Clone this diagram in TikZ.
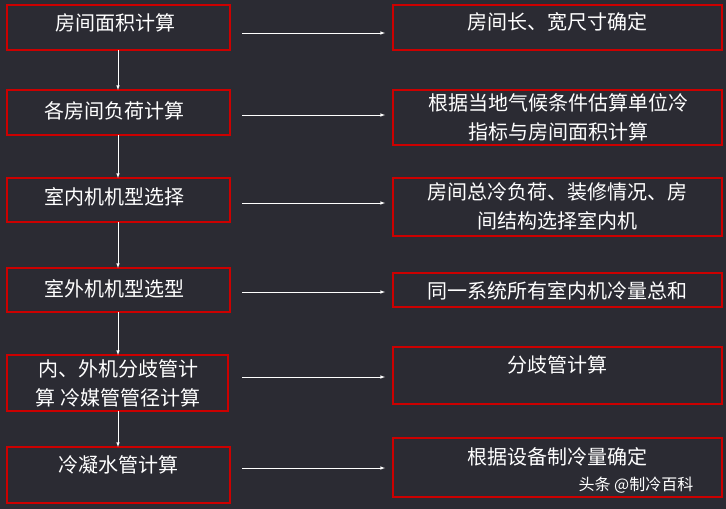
\documentclass[tikz,border=0pt]{standalone}
\usepackage{fontspec}
\setmainfont{Noto Sans CJK SC}
\begin{document}
\begin{tikzpicture}[x=1pt,y=-1pt,
 box/.style={draw=red!80!black,line width=1.2pt,inner sep=0pt},
 txt/.style={text=white,font=\fontsize{20}{29}\selectfont,align=center},
 arr/.style={draw=white,line width=0.6pt,-latex}]
\fill[fill={rgb,255:red,43;green,43;blue,51}] (0,0) rectangle (726,509);
\useasboundingbox (0,0) rectangle (726,509);
\foreach \n/\a/\b/\r in {L1/5/50/230,L2/90/135/230,L3/178/222/230,L4/268/312/230,L5/355/411/228,L6/447/503/230}{
 \draw[box] (7,\a) rectangle (\r,\b);
 \coordinate (\n t) at (118,\a); \coordinate (\n b) at (118,\b);}
\foreach \n/\a/\b in {R1/5/50,R2/90/145,R3/178/236,R4/273/307,R5/347/404,R6/438/497}{
 \draw[box] (393,\a) rectangle (722,\b);}
\foreach \i/\y in {1/33,2/115,3/203,4/292,5/377,6/468}{
 \coordinate (A\i) at (242,\y); \coordinate (B\i) at (385,\y);}
\node[txt] (l1) at (115,23) {房间面积计算};
\node[txt] (l2) at (115,111) {各房间负荷计算};
\node[txt] (l3) at (115,197) {室内机机型选择};
\node[txt] (l4) at (115,289) {室外机机型选型};
\node[txt] (l5) at (118,383) {内、外机分歧管计\\算 冷媒管管径计算};
\node[txt] (l6) at (118,465) {冷凝水管计算};
\node[txt] (r1) at (557,22) {房间长、宽尺寸确定};
\node[txt] (r2) at (558,117) {根据当地气候条件估算单位冷\\指标与房间面积计算};
\node[txt] (r3) at (557,206) {房间总冷负荷、装修情况、房\\间结构选择室内机};
\node[txt] (r4) at (557,291) {同一系统所有室内机冷量总和};
\node[txt] (r5) at (557,365) {分歧管计算};
\node[txt] (r6) at (557,457) {根据设备制冷量确定};
\foreach \i/\j in {1/2,2/3,3/4,4/5,5/6}{ \draw[arr] (L\i b) -- (L\j t); }
\foreach \i in {1,...,6}{ \draw[arr] (A\i) -- (B\i); }
\node[text=white,font=\fontsize{16}{18}\selectfont,anchor=west] (wm) at (575,485) {头条 @制冷百科};
\end{tikzpicture}
\end{document}
